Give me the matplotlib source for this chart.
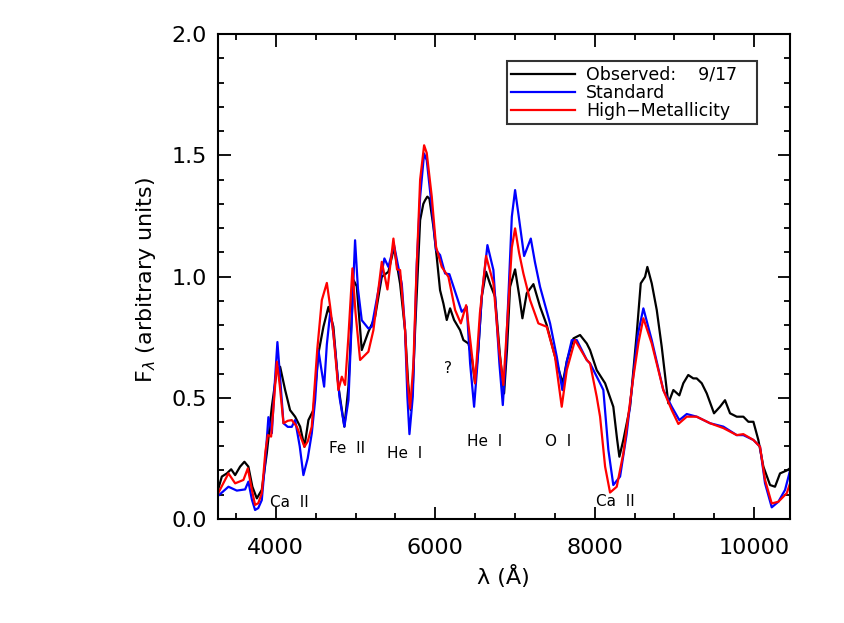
import matplotlib
matplotlib.use("Agg")
import matplotlib.pyplot as plt
from matplotlib.ticker import MultipleLocator

# observed spectrum (9/17)
obs_wave = [3275, 3323, 3386, 3440, 3490, 3552, 3606, 3656, 3706, 3762, 3824, 3887,
            3950, 4013, 4054, 4117, 4179, 4242, 4305, 4359, 4409, 4471, 4534, 4597,
            4660, 4722, 4785, 4860, 4911, 4974, 5015, 5078, 5161, 5245, 5329, 5412,
            5483, 5559, 5621, 5660, 5693, 5720, 5747, 5810, 5850, 5872, 5900, 5926,
            5977, 6018, 6060, 6102, 6144, 6186, 6236, 6311, 6353, 6416, 6460, 6499,
            6540, 6583, 6637, 6687, 6750, 6810, 6863, 6900, 6938, 7001, 7055, 7093,
            7147, 7231, 7314, 7398, 7524, 7599, 7649, 7733, 7816, 7900, 7941, 8025,
            8130, 8233, 8280, 8309, 8359, 8443, 8527, 8577, 8631, 8660, 8715, 8778,
            8840, 8923, 8986, 9061, 9111, 9173, 9236, 9279, 9342, 9405, 9496, 9571,
            9634, 9697, 9781, 9864, 9927, 9990, 10052, 10115, 10199, 10261, 10324,
            10408, 10450]
obs_flux = [0.12, 0.175, 0.188, 0.205, 0.181, 0.216, 0.236, 0.216, 0.133, 0.085, 0.12, 0.271,
            0.463, 0.614, 0.628, 0.532, 0.449, 0.422, 0.381, 0.298, 0.408, 0.449, 0.683, 0.793,
            0.875, 0.793, 0.546, 0.381, 0.546, 0.986, 0.96, 0.697, 0.772, 0.834, 0.999, 1.02,
            1.12, 0.97, 0.779, 0.56, 0.449, 0.56, 0.78, 1.233, 1.30, 1.315, 1.33, 1.322,
            1.205, 1.082, 0.944, 0.889, 0.821, 0.869, 0.821, 0.779, 0.738, 0.724, 0.66, 0.56,
            0.70, 0.917, 1.02, 0.97, 0.917, 0.68, 0.518, 0.70, 0.958, 1.03, 0.917, 0.828,
            0.931, 0.969, 0.876, 0.8, 0.642, 0.56, 0.65, 0.745, 0.759, 0.724, 0.697, 0.614,
            0.56, 0.463, 0.33, 0.257, 0.326, 0.463, 0.766, 0.972, 0.999, 1.04, 0.972, 0.862,
            0.711, 0.477, 0.532, 0.51, 0.56, 0.594, 0.58, 0.58, 0.56, 0.518, 0.436, 0.463,
            0.49, 0.436, 0.422, 0.422, 0.401, 0.401, 0.326, 0.216, 0.14, 0.133, 0.188,
            0.2, 0.209]

# standard model
std_wave = [3275, 3406, 3511, 3615, 3656, 3700, 3740, 3780, 3824, 3870, 3907, 3950,
            3985, 4020, 4050, 4096, 4150, 4200, 4242, 4300, 4346, 4400, 4451, 4493,
            4534, 4570, 4606, 4640, 4681, 4710, 4744, 4800, 4860, 4911, 4950, 4994,
            5030, 5078, 5161, 5203, 5290, 5362, 5412, 5483, 5530, 5580, 5621, 5650,
            5676, 5718, 5743, 5768, 5810, 5860, 5893, 5956, 5985, 6010, 6060, 6123,
            6177, 6270, 6332, 6395, 6437, 6487, 6529, 6583, 6654, 6729, 6804, 6847,
            6880, 6917, 6960, 7001, 7042, 7114, 7198, 7250, 7314, 7440, 7524, 7594,
            7650, 7712, 7775, 7900, 7941, 8067, 8108, 8171, 8233, 8318, 8400, 8464,
            8540, 8610, 8715, 8860, 8966, 9061, 9154, 9279, 9446, 9613, 9781, 9864,
            9990, 10073, 10136, 10220, 10303, 10387, 10450]
std_flux = [0.095, 0.133, 0.117, 0.122, 0.154, 0.08, 0.037, 0.045, 0.078, 0.25, 0.42, 0.354,
            0.55, 0.73, 0.6, 0.395, 0.38, 0.38, 0.408, 0.3, 0.181, 0.25, 0.353, 0.49,
            0.697, 0.62, 0.546, 0.72, 0.848, 0.8, 0.697, 0.5, 0.381, 0.49, 0.8, 1.15,
            0.95, 0.82, 0.786, 0.793, 0.95, 1.075, 1.04, 1.13, 1.05, 0.97, 0.78, 0.505,
            0.35, 0.505, 0.78, 1.054, 1.329, 1.508, 1.48, 1.288, 1.19, 1.109, 1.089, 1.013,
            1.01, 0.917, 0.855, 0.875, 0.642, 0.463, 0.642, 0.917, 1.13, 1.027, 0.642, 0.47,
            0.643, 0.917, 1.247, 1.357, 1.26, 1.085, 1.157, 1.06, 0.958, 0.807, 0.669, 0.532,
            0.65, 0.738, 0.738, 0.656, 0.642, 0.56, 0.532, 0.285, 0.14, 0.175, 0.35, 0.532,
            0.76, 0.869, 0.738, 0.532, 0.463, 0.408, 0.433, 0.422, 0.395, 0.381, 0.346, 0.346,
            0.326, 0.298, 0.147, 0.048, 0.071, 0.12, 0.2]

# high-metallicity model
hm_wave = [3275, 3406, 3490, 3594, 3649, 3700, 3740, 3780, 3824, 3870, 3900, 3941,
           3980, 4013, 4050, 4096, 4150, 4200, 4263, 4359, 4400, 4451, 4520, 4577,
           4640, 4680, 4722, 4785, 4828, 4869, 4910, 4961, 5000, 5057, 5161, 5224,
           5329, 5400, 5475, 5520, 5559, 5621, 5650, 5684, 5726, 5760, 5810, 5860,
           5893, 5956, 6010, 6081, 6165, 6249, 6320, 6387, 6445, 6499, 6560, 6637,
           6729, 6800, 6854, 6920, 6960, 7001, 7050, 7105, 7189, 7293, 7398, 7502,
           7586, 7649, 7753, 7900, 7941, 8025, 8067, 8130, 8192, 8276, 8359, 8485,
           8550, 8610, 8715, 8860, 8966, 9049, 9154, 9279, 9446, 9613, 9781, 9864,
           9990, 10073, 10136, 10220, 10303, 10408, 10450]
hm_flux = [0.105, 0.188, 0.147, 0.161, 0.209, 0.12, 0.058, 0.065, 0.106, 0.28, 0.346, 0.34,
           0.5, 0.649, 0.55, 0.395, 0.405, 0.408, 0.381, 0.298, 0.32, 0.381, 0.7, 0.903,
           0.974, 0.88, 0.766, 0.532, 0.587, 0.553, 0.75, 1.034, 0.85, 0.656, 0.69, 0.779,
           1.061, 0.947, 1.157, 1.03, 1.027, 0.78, 0.58, 0.456, 0.64, 0.98, 1.40, 1.542,
           1.51, 1.33, 1.123, 1.04, 0.999, 0.862, 0.807, 0.882, 0.72, 0.56, 0.85, 1.085,
           0.972, 0.7, 0.553, 0.9, 1.12, 1.199, 1.1, 1.013, 0.903, 0.807, 0.793, 0.669,
           0.463, 0.614, 0.738, 0.656, 0.642, 0.504, 0.422, 0.216, 0.109, 0.133, 0.271, 0.587,
           0.73, 0.828, 0.724, 0.532, 0.449, 0.392, 0.422, 0.422, 0.395, 0.375, 0.346, 0.35,
           0.326, 0.298, 0.161, 0.064, 0.071, 0.106, 0.147]

# line identifications
line_labels = ["Ca  II", "Fe  II", "He  I", "?", "He  I", "O  I", "Ca  II"]
line_wave = [4165, 4888, 5621, 6157, 6613, 7540, 8255]
line_flux = [0.067, 0.29, 0.272, 0.621, 0.319, 0.319, 0.071]

fig = plt.figure(figsize=(8.45, 6.23), dpi=100)
ax = fig.add_axes([0.258, 0.167, 0.677, 0.778])

ax.plot(obs_wave, obs_flux, color="black", lw=1.6, label="Observed:    9/17")
ax.plot(std_wave, std_flux, color="blue", lw=1.6, label="Standard")
ax.plot(hm_wave, hm_flux, color="red", lw=1.6, label="High\u2212Metallicity")

for lab, x, y in zip(line_labels, line_wave, line_flux):
    ax.text(x, y, lab, fontsize=11, ha="center", va="center")

ax.set_xlim(3275, 10450)
ax.set_ylim(0, 2.0)
ax.xaxis.set_major_locator(MultipleLocator(2000))
ax.xaxis.set_minor_locator(MultipleLocator(500))
ax.yaxis.set_major_locator(MultipleLocator(0.5))
ax.yaxis.set_minor_locator(MultipleLocator(0.1))
ax.yaxis.set_major_formatter(plt.FormatStrFormatter("%.1f"))

ax.tick_params(which="both", direction="in", top=True, right=True, width=1.3)
ax.tick_params(which="major", length=9, labelsize=16)
ax.tick_params(which="minor", length=4.5)
ax.tick_params(axis="x", pad=14)
ax.tick_params(axis="y", pad=8)
for s in ax.spines.values():
    s.set_linewidth(1.5)

ax.set_xlabel("\u03bb (\u00c5)", fontsize=16)
ax.set_ylabel("F$_\\lambda$ (arbitrary units)", fontsize=16)
ax.xaxis.set_label_coords(0.498, -0.095)
ax.yaxis.set_label_coords(-0.105, 0.493)

leg = ax.legend(loc="upper left", bbox_to_anchor=(0.505, 0.0, 0.437, 0.944), mode="expand",
                fontsize=12.5, frameon=True, fancybox=False, borderaxespad=0,
                handlelength=3.7, handletextpad=0.6, labelspacing=0.0, borderpad=0.25)
leg.get_frame().set_edgecolor("black")
leg.get_frame().set_linewidth(1.5)

fig.savefig("out.png", dpi=100)
